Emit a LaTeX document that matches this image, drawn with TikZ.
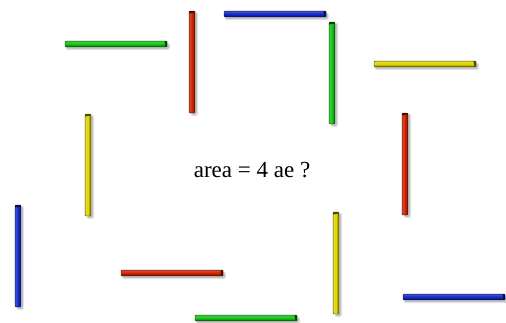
\documentclass[tikz,border=0pt]{standalone}
\usepackage{fontspec}
\setmainfont{Liberation Serif}
\usepackage{tikz}
\usepackage{xcolor}
\definecolor{red}{RGB}{210,34,0}
\definecolor{green}{RGB}{20,196,20}
\definecolor{blue}{RGB}{20,40,200}
\definecolor{yellow}{RGB}{222,212,0}

% horizontal rod: left end x, y, colour
\newcommand{\hrod}[3]{%
\fill[black,opacity=.10,rounded corners=2pt] (#1+0.5,#2-1.5) rectangle (#1+105,#2+6);
\fill[black,opacity=.15,rounded corners=1.5pt] (#1+1.5,#2-0.5) rectangle (#1+104,#2+5);
\shade[top color=#3!80!white,bottom color=#3!55!black,middle color=#3,rounded corners=1pt]
 (#1,#2-2.8) rectangle (#1+102,#2+2.8);
\draw[#3!35!black,line width=.45pt,rounded corners=1pt] (#1,#2-2.8) rectangle (#1+102,#2+2.8);
\fill[#3!35!black] (#1+99.5,#2-2.8) -- (#1+102,#2-2.8) -- (#1+102,#2+2.8) -- (#1+100.5,#2+2.8) -- cycle;
}
% vertical rod: x, top end y, colour
\newcommand{\vrod}[3]{%
\fill[black,opacity=.10,rounded corners=2pt] (#1-1.5,#2+0.5) rectangle (#1+6,#2+105);
\fill[black,opacity=.15,rounded corners=1.5pt] (#1-0.5,#2+1.5) rectangle (#1+5,#2+104);
\shade[left color=#3!80!white,right color=#3!55!black,middle color=#3,rounded corners=1pt]
 (#1-2.8,#2) rectangle (#1+2.8,#2+102);
\draw[#3!35!black,line width=.45pt,rounded corners=1pt] (#1-2.8,#2) rectangle (#1+2.8,#2+102);
\fill[#3!35!black] (#1-2.8,#2) -- (#1+2.8,#2) -- (#1+2.8,#2+1.5) -- (#1-2.8,#2+2.5) -- cycle;
}

\begin{document}
\begin{tikzpicture}[x=1pt,y=-1pt]
\useasboundingbox (0,0) rectangle (506,322);
\hrod{65}{44}{green}
\vrod{192}{11}{red}
\hrod{224}{14}{blue}
\vrod{332}{22}{green}
\hrod{374}{64}{yellow}
\vrod{405}{113}{red}
\vrod{88}{114}{yellow}
\vrod{18}{205}{blue}
\hrod{121}{273}{red}
\hrod{195}{318}{green}
\vrod{336}{212}{yellow}
\hrod{403}{297}{blue}
\node[font=\fontsize{23}{28}\selectfont] (question) at (252,170) {area = 4 ae ?};
\end{tikzpicture}
\end{document}
